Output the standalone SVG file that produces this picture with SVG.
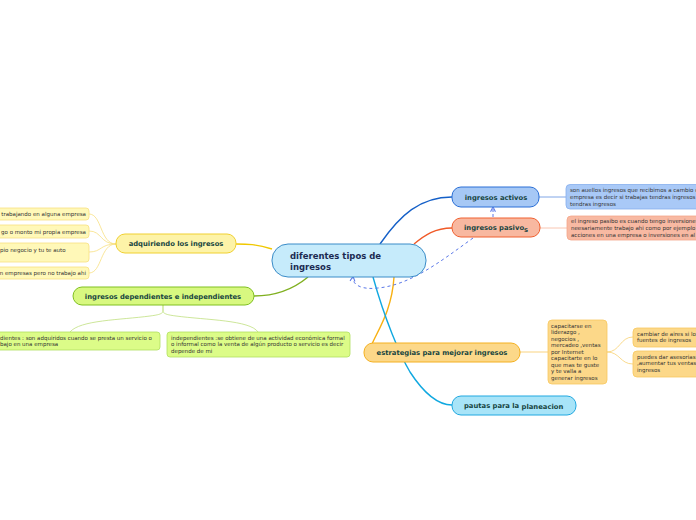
<svg xmlns="http://www.w3.org/2000/svg" width="696" height="520" viewBox="0 0 696 520">
<defs>
<marker id="arr" viewBox="0 0 10 10" refX="7" refY="5" markerWidth="7" markerHeight="7" orient="auto">
<path d="M1,1.5 L8,5 L1,8.5" fill="none" stroke="#5a78e8" stroke-width="1.5"/>
</marker>
<style>
.t{font-family:"DejaVu Sans",Verdana,sans-serif;font-weight:bold;font-size:6.8px;fill:#17453f}
.c{font-family:"DejaVu Sans",Verdana,sans-serif;font-weight:bold;font-size:8.5px;fill:#1b2a52}
.l{font-family:"DejaVu Sans",Verdana,sans-serif;font-size:5.5px;fill:#333}
.cn{fill:none}
</style>
</defs>
<rect width="696" height="520" fill="#ffffff"/>
<g id="connectors">
<path class="cn" d="M380,244 C400,215 420,197 452,197" stroke="#1560c8" stroke-width="1.4"/>
<path class="cn" d="M414,244 C425,235 435,228 452,228" stroke="#f05a28" stroke-width="1.4"/>
<path class="cn" d="M394,277 C392,310 378,330 372,344" stroke="#f8b010" stroke-width="1.4"/>
<path class="cn" d="M373,277 C385,320 400,355 410,372 C425,395 440,405 452,405" stroke="#10a8e0" stroke-width="1.4"/>
<path class="cn" d="M272,249 C255,244 248,244 236,244" stroke="#f0c800" stroke-width="1.4"/>
<path class="cn" d="M308,277 C290,292 270,296 254,296" stroke="#80b020" stroke-width="1.4"/>
<path class="cn" d="M539,197 L566,197" stroke="#6090e0" stroke-width="0.8"/>
<path class="cn" d="M540,228 L567,228" stroke="#f8b8a0" stroke-width="0.8"/>
<path class="cn" d="M520,352 L548,352" stroke="#f8c860" stroke-width="0.8"/>
<path class="cn" d="M607,352 C620,352 620,337 633,337 M607,352 C620,352 620,364 633,364" stroke="#f8d070" stroke-width="0.8"/>
<path class="cn" d="M116,244 C100,244 102,214 89,214 M116,244 C100,244 102,231 89,231 M116,244 C100,244 102,252 89,252 M116,244 C100,244 102,273 89,273" stroke="#f8e080" stroke-width="0.8"/>
<path class="cn" d="M163,305 C163,312 166,314 150,316 C120,320 80,320 70,332 M163,305 C163,312 160,314 176,316 C206,320 250,320 258,332" stroke="#c0e080" stroke-width="0.8"/>
<path class="cn" d="M473,238 C440,262 410,285 378,288 C362,290 352,285 353,277" stroke="#5a78e8" stroke-width="1" stroke-dasharray="3,3" marker-end="url(#arr)"/>
<path class="cn" d="M493,217 L493,207.5" stroke="#5a78e8" stroke-width="1" stroke-dasharray="3,2" marker-end="url(#arr)"/>
</g>
<g id="center">
<rect x="272" y="244" width="154" height="33" rx="16" fill="#c6ebfb" stroke="#3a8cc8" stroke-width="1"/>
<text class="c" x="290" y="259">diferentes tipos de</text>
<text class="c" x="290" y="270">ingresos</text>
</g>
<g id="activos">
<rect x="452" y="187" width="87" height="20" rx="9" fill="#a6c8f5" stroke="#2a6fd6" stroke-width="1"/>
<text class="t" x="496" y="200" text-anchor="middle">ingresos activos</text>
</g>
<g id="activos-leaf">
<rect x="566" y="184.5" width="140" height="24.5" rx="4" fill="#a9c9f7" stroke="#86aeee" stroke-width="0.8"/>
<text class="l" x="570" y="192">son auellos ingresos que recibimos a cambio de</text>
<text class="l" x="570" y="199">empresa es decir si trabajas tendras ingresos</text>
<text class="l" x="570" y="205.5">tendras ingresos</text>
</g>
<g id="pasivos">
<rect x="452" y="218" width="88" height="19" rx="9" fill="#f8b8a0" stroke="#f06030" stroke-width="1"/>
<text class="t" x="464" y="230">ingresos pasivo<tspan dy="1.5">s</tspan></text>
</g>
<g id="pasivos-leaf">
<rect x="567" y="216" width="140" height="24" rx="4" fill="#f8b9a2" stroke="#f4a68a" stroke-width="0.8"/>
<text class="l" x="571" y="223">el ingreso pasibo es cuando tengo inversiones</text>
<text class="l" x="571" y="229.5">neesariamente trabajo ahi como por ejemplo</text>
<text class="l" x="571" y="236.5">acciones en una empresa o inversiones en al</text>
</g>
<g id="estrategias">
<rect x="364" y="343" width="156" height="19" rx="9" fill="#fcd889" stroke="#f4b020" stroke-width="1"/>
<text class="t" x="442" y="355" text-anchor="middle">estrategias para mejorar ingresos</text>
</g>
<g id="estrategias-leaf">
<rect x="548" y="320" width="59" height="64" rx="4" fill="#fcd889" stroke="#f8c860" stroke-width="0.8"/>
<text class="l" x="551" y="327.5">capacitarse  en</text>
<text class="l" x="551" y="334">liderazgo ,</text>
<text class="l" x="551" y="340.5">negocios ,</text>
<text class="l" x="551" y="347">mercadeo ,ventas</text>
<text class="l" x="551" y="353.5">por Internet</text>
<text class="l" x="551" y="360">capacitarte en lo</text>
<text class="l" x="551" y="366.5">que mas te guste</text>
<text class="l" x="551" y="373">y te valla a</text>
<text class="l" x="551" y="379.5">generar ingresos</text>
</g>
<g id="aires">
<rect x="633" y="328" width="80" height="19" rx="4" fill="#fcd889" stroke="#f8c860" stroke-width="0.8"/>
<text class="l" x="637" y="335.5">cambiar de aires si lo</text>
<text class="l" x="637" y="342">fuentes de ingresos</text>
</g>
<g id="asesorias">
<rect x="633" y="351" width="80" height="26" rx="4" fill="#fcd889" stroke="#f8c860" stroke-width="0.8"/>
<text class="l" x="637" y="358.5">puedes dar asesorias</text>
<text class="l" x="637" y="365">,aumentar tus ventas</text>
<text class="l" x="637" y="371.5">ingresos</text>
</g>
<g id="pautas">
<rect x="452" y="396" width="124" height="19" rx="9" fill="#a8e4f8" stroke="#20a8e0" stroke-width="1"/>
<text class="t" x="464" y="407.5">pautas para la <tspan dy="1">planeacion</tspan></text>
</g>
<g id="adquiriendo">
<rect x="116" y="234" width="120" height="19" rx="9" fill="#fdf3a8" stroke="#f0d030" stroke-width="1"/>
<text class="t" x="176" y="246" text-anchor="middle">adquiriendo los ingresos</text>
</g>
<g id="adq-1">
<rect x="-20" y="208" width="109" height="12" rx="3" fill="#fff8b8" stroke="#f8e080" stroke-width="0.8"/>
<text class="l" x="86" y="216" text-anchor="end">trabajando en alguna empresa</text>
</g>
<g id="adq-2">
<rect x="-20" y="225" width="109" height="13" rx="3" fill="#fff8b8" stroke="#f8e080" stroke-width="0.8"/>
<text class="l" x="86" y="233.5" text-anchor="end">go o monto mi propia empresa</text>
</g>
<g id="adq-3">
<rect x="-20" y="243" width="109" height="19" rx="3" fill="#fff8b8" stroke="#f8e080" stroke-width="0.8"/>
<text class="l" x="0" y="251.5">pio negocio y tu te auto</text>
</g>
<g id="adq-4">
<rect x="-20" y="267" width="109" height="12" rx="3" fill="#fff8b8" stroke="#f8e080" stroke-width="0.8"/>
<text class="l" x="86" y="275" text-anchor="end">n empresas pero no trabajo ahi</text>
</g>
<g id="dependientes">
<rect x="73" y="287" width="181" height="18" rx="9" fill="#d8f880" stroke="#80c020" stroke-width="1"/>
<text class="t" x="163" y="298.5" text-anchor="middle">ingresos dependientes e independientes</text>
</g>
<g id="dep-1">
<rect x="-20" y="332" width="180" height="18" rx="3" fill="#dcfc88" stroke="#b0e060" stroke-width="0.8"/>
<text class="l" x="0" y="339.5">dientes : son adquiridos cuando se presta un servicio o</text>
<text class="l" x="0" y="346">bajo en una empresa</text>
</g>
<g id="dep-2">
<rect x="167" y="332" width="183" height="25" rx="3" fill="#dcfc88" stroke="#b0e060" stroke-width="0.8"/>
<text class="l" x="171" y="339.5">independientes :se obtiene de una actividad económica formal</text>
<text class="l" x="171" y="346">o informal como la venta de algún producto o servicio es decir</text>
<text class="l" x="171" y="352.5">depende de mi</text>
</g>
</svg>
